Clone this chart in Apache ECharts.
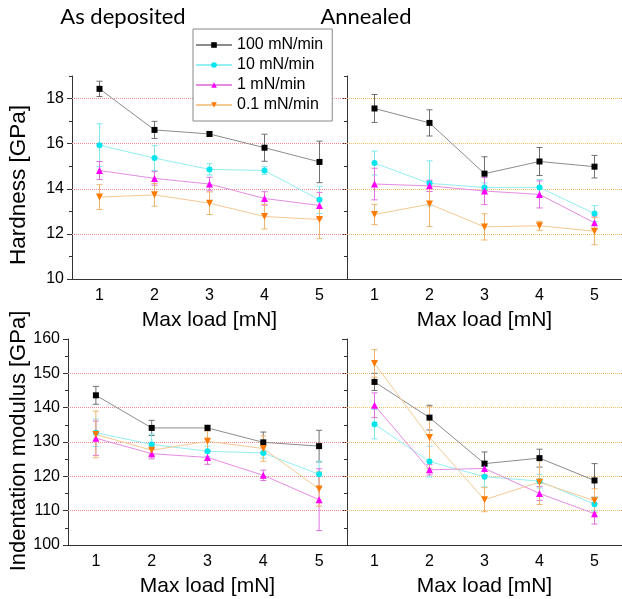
<!DOCTYPE html>
<html>
<head>
<meta charset="utf-8">
<script src="https://cdn.jsdelivr.net/npm/echarts@6/dist/echarts.min.js"></script>
<style>
  html, body { margin: 0; padding: 0; background: #fff; }
  #chart { width: 622px; height: 599px; }
</style>
</head>
<body>
<div id="chart"></div>
<script>
const loads = ['1', '2', '3', '4', '5']
const rates = ['100 mN/min', '10 mN/min', '1 mN/min', '0.1 mN/min']

// tick values
const hardTicks = [10, 12, 14, 16, 18]
const hardMinor = [11, 13, 15, 17, 19]
const hardGrid = [12, 14, 16, 18]
const modTicks = [100, 110, 120, 130, 140, 150, 160]
const modMinor = [105, 115, 125, 135, 145, 155]
const modGrid = [110, 120, 130, 140, 150]

// hardness [GPa], as deposited
const hardDep100 = [18.43, 16.61, 16.43, 15.82, 15.19]
const hardDep10 = [15.93, 15.36, 14.86, 14.81, 13.51]
const hardDep1 = [14.81, 14.46, 14.21, 13.57, 13.26]
const hardDep01 = [13.63, 13.73, 13.36, 12.77, 12.64]
const hardDepErr100 = [0.34, 0.38, 0.1, 0.6, 0.92]
const hardDepErr10 = [0.95, 0.55, 0.25, 0.17, 0.6]
const hardDepErr1 = [0.4, 0.3, 0.3, 0.3, 0.58]
const hardDepErr01 = [0.55, 0.5, 0.5, 0.55, 0.85]

// hardness [GPa], annealed
const hardAnn100 = [17.56, 16.92, 14.67, 15.21, 14.98]
const hardAnn10 = [15.14, 14.24, 14.06, 14.06, 12.9]
const hardAnn1 = [14.21, 14.13, 13.9, 13.75, 12.49]
const hardAnn01 = [12.86, 13.32, 12.31, 12.36, 12.12]
const hardAnnErr100 = [0.62, 0.58, 0.75, 0.62, 0.5]
const hardAnnErr10 = [0.53, 1.0, 0.2, 0.35, 0.35]
const hardAnnErr1 = [0.7, 0.25, 0.6, 0.6, 0.3]
const hardAnnErr01 = [0.45, 1.0, 0.58, 0.2, 0.6]

// indentation modulus [GPa], as deposited
const modDep100 = [143.6, 134.1, 134.1, 129.9, 128.8]
const modDep10 = [132.7, 129.3, 127.3, 126.8, 120.6]
const modDep1 = [131.1, 126.6, 125.5, 120.3, 113.2]
const modDep01 = [132.2, 127.6, 130.2, 128.1, 116.3]
const modDepErr100 = [2.6, 2.2, 0.8, 3, 4.6]
const modDepErr10 = [4, 3, 1.5, 1.5, 3.8]
const modDepErr1 = [5, 1.5, 2, 1.5, 9]
const modDepErr01 = [6.8, 1.5, 3, 3.7, 5]

// indentation modulus [GPa], annealed
const modAnn100 = [147.5, 137.1, 123.7, 125.3, 118.8]
const modAnn10 = [135.2, 124.3, 119.9, 118.6, 111.9]
const modAnn1 = [140.7, 121.9, 122.3, 115.0, 109.1]
const modAnn01 = [152.9, 131.3, 113.2, 118.3, 112.9]
const modAnnErr100 = [2.5, 3.6, 3.4, 2.6, 4.9]
const modAnnErr10 = [4.3, 4.5, 3, 2, 2]
const modAnnErr1 = [3.6, 1.5, 2, 2, 3]
const modAnnErr01 = [4, 9, 3.5, 6.5, 3.5]

const styles = [
  { symbol: 'rect', size: 6, rotate: 0, mark: '#000000', line: '#8c8c8c', err: '#707070' },
  { symbol: 'circle', size: 6, rotate: 0, mark: '#00e5ee', line: '#95eef0', err: '#80e6ee' },
  { symbol: 'triangle', size: 7, rotate: 0, mark: '#ff00ff', line: '#e48ce4', err: '#e070e0' },
  { symbol: 'triangle', size: 7, rotate: 180, mark: '#ff7a00', line: '#f5c994', err: '#efb46c' }
]

const panels = [
  { vals: [hardDep100, hardDep10, hardDep1, hardDep01], errs: [hardDepErr100, hardDepErr10, hardDepErr1, hardDepErr01], gridLines: hardGrid, gridColor: '#ee8a8a' },
  { vals: [hardAnn100, hardAnn10, hardAnn1, hardAnn01], errs: [hardAnnErr100, hardAnnErr10, hardAnnErr1, hardAnnErr01], gridLines: hardGrid, gridColor: '#f5bc6c' },
  { vals: [modDep100, modDep10, modDep1, modDep01], errs: [modDepErr100, modDepErr10, modDepErr1, modDepErr01], gridLines: modGrid, gridColor: '#ee8a8a' },
  { vals: [modAnn100, modAnn10, modAnn1, modAnn01], errs: [modAnnErr100, modAnnErr10, modAnnErr1, modAnnErr01], gridLines: modGrid, gridColor: '#f5bc6c' }
]

const axisColor = '#333'
const tickFont = { fontFamily: 'Liberation Sans', fontSize: 16, color: '#000' }
const nameFont = { fontFamily: 'Liberation Sans', fontSize: 21, color: '#000' }

const xAxis = []
const yAxis = []
panels.forEach((p, g) => {
  xAxis.push({
    type: 'category', gridIndex: g, position: 'bottom', data: loads, boundaryGap: true,
    axisLine: { lineStyle: { color: axisColor } },
    axisTick: { alignWithLabel: true, length: 5, lineStyle: { color: axisColor } },
    axisLabel: { margin: 9, ...tickFont },
    name: 'Max load [mN]', nameLocation: 'middle', nameGap: 31, nameTextStyle: nameFont
  })
  xAxis.push({
    type: 'category', gridIndex: g, position: 'bottom', data: loads, boundaryGap: true,
    axisLine: { show: false },
    axisTick: { inside: true, length: 3, lineStyle: { color: axisColor } },
    axisLabel: { show: false }
  })
  const top = g < 2
  const left = g % 2 === 0
  const lo = top ? 10 : 100
  const hi = top ? 19 : 160
  const major = top ? hardTicks : modTicks
  const minor = top ? hardMinor : modMinor
  yAxis.push({
    type: 'value', gridIndex: g, position: 'left', min: lo, max: hi,
    axisLine: { show: true, lineStyle: { color: axisColor } },
    axisTick: { show: true, length: 5, customValues: major, lineStyle: { color: axisColor } },
    axisLabel: { show: left, margin: 8, customValues: major, ...tickFont },
    splitLine: { show: false }
  })
  yAxis.push({
    type: 'value', gridIndex: g, position: 'left', min: lo, max: hi,
    axisLine: { show: false },
    axisTick: { show: true, length: 3, customValues: minor, lineStyle: { color: axisColor } },
    axisLabel: { show: false, customValues: minor },
    splitLine: { show: false }
  })
})

const series = []
panels.forEach((p, g) => {
  p.vals.forEach((vals, k) => {
    const st = styles[k]
    const errs = p.errs[k]
    series.push({
      type: 'custom', name: 'err' + g + k, xAxisIndex: g * 2, yAxisIndex: g * 2,
      silent: true, z: 2,
      encode: { x: 0, y: [1, 2] },
      data: vals.map((v, i) => [i, v - errs[i], v + errs[i]]),
      renderItem: (params, api) => {
        const a = api.coord([api.value(0), api.value(2)])
        const b = api.coord([api.value(0), api.value(1)])
        const s = { stroke: st.err, lineWidth: 1 }
        return {
          type: 'group',
          children: [
            { type: 'line', shape: { x1: a[0], y1: a[1], x2: b[0], y2: b[1] }, style: s },
            { type: 'line', shape: { x1: a[0] - 3, y1: a[1], x2: a[0] + 3, y2: a[1] }, style: s },
            { type: 'line', shape: { x1: b[0] - 3, y1: b[1], x2: b[0] + 3, y2: b[1] }, style: s }
          ]
        }
      }
    })
    const line = {
      type: 'line', name: rates[k], xAxisIndex: g * 2, yAxisIndex: g * 2,
      data: vals, symbol: st.symbol, symbolSize: st.size, symbolRotate: st.rotate,
      showAllSymbol: true, animation: false, z: 3,
      itemStyle: { color: st.mark },
      lineStyle: { color: st.line, width: 1 }
    }
    if (k === 0) {
      line.markLine = {
        silent: true, symbol: ['none', 'none'], z: 1, animation: false,
        label: { show: false },
        lineStyle: { type: 'dotted', color: p.gridColor, width: 1 },
        data: p.gridLines.map(v => ({ yAxis: v }))
      }
    }
    series.push(line)
  })
})

const chart = echarts.init(document.getElementById('chart'))
chart.setOption({
  animation: false,
  backgroundColor: '#fff',
  grid: [
    { left: 72, top: 76, width: 275, height: 203 },
    { left: 347, top: 76, width: 276, height: 203 },
    { left: 68, top: 339, width: 279, height: 206 },
    { left: 347, top: 339, width: 276, height: 206 }
  ],
  xAxis,
  yAxis,
  legend: {
    data: rates, orient: 'vertical', left: 193, top: 29,
    selectedMode: false,
    itemWidth: 36, itemHeight: 7, itemGap: 4,
    padding: [8, 9, 8, 2],
    backgroundColor: '#fff', borderColor: '#888', borderWidth: 1, borderRadius: 0,
    textStyle: { fontFamily: 'Liberation Sans', fontSize: 16, color: '#000', lineHeight: 16 }
  },
  graphic: [
    { type: 'text', x: 123, y: 17, style: { text: 'As deposited', fontFamily: 'Lato', fontSize: 22, fill: '#000', align: 'center', verticalAlign: 'middle' } },
    { type: 'text', x: 366, y: 17, style: { text: 'Annealed', fontFamily: 'Lato', fontSize: 22, fill: '#000', align: 'center', verticalAlign: 'middle' } },
    { type: 'text', x: 19, y: 185, rotation: Math.PI / 2, style: { text: 'Hardness [GPa]', fontFamily: 'Liberation Sans', fontSize: 22.5, fill: '#000', align: 'center', verticalAlign: 'middle' } },
    { type: 'text', x: 19, y: 441, rotation: Math.PI / 2, style: { text: 'Indentation modulus [GPa]', fontFamily: 'Liberation Sans', fontSize: 22, fill: '#000', align: 'center', verticalAlign: 'middle' } }
  ],
  series
})
</script>
</body>
</html>
